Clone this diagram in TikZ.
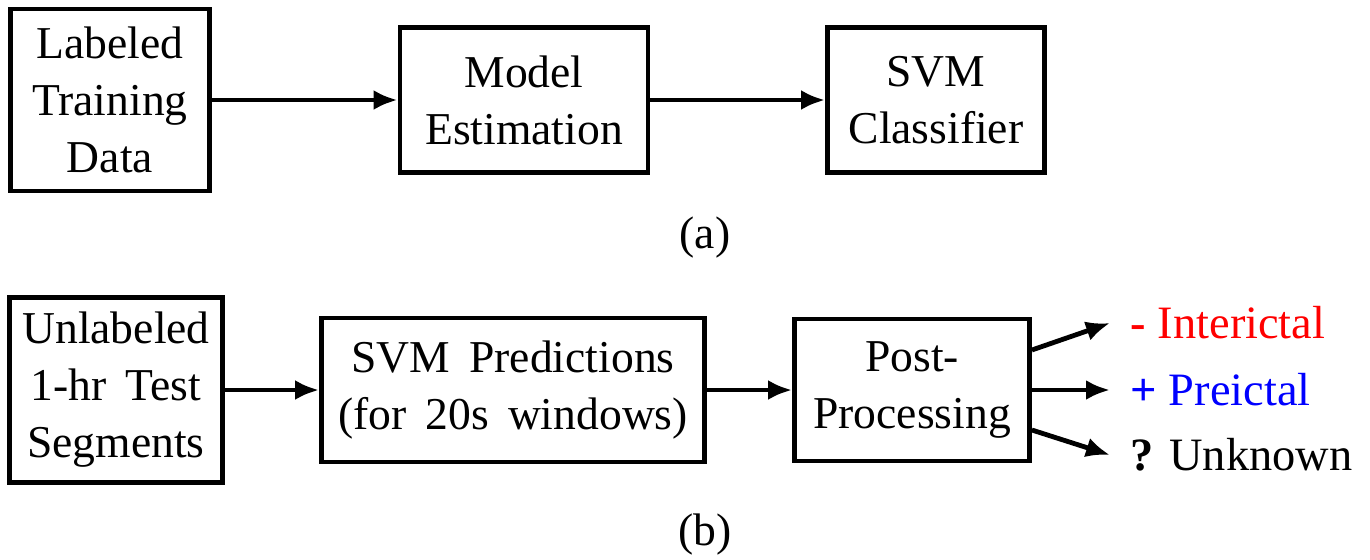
\documentclass[tikz,border=0pt]{standalone}
\usepackage{fontspec}
\setmainfont{LiberationSerif}[Extension=.ttf, UprightFont=*-Regular, BoldFont=*-Bold, ItalicFont=*-Italic, BoldItalicFont=*-BoldItalic]
\usetikzlibrary{arrows.meta}

\newcommand{\blockfont}{\rmfamily\fontsize{11.4}{14.25}\selectfont\spaceskip=0.42em plus 0.1em\relax}

\tikzset{
  block/.style={draw, line width=1.2pt, inner sep=0pt, align=center,
    font=\blockfont},
  flow/.style={-{Latex[length=6pt,width=5pt]}, line width=1.2pt},
  outlabel/.style={anchor=west, inner xsep=5pt, inner ysep=0pt,
    font=\rmfamily\fontsize{11.6}{14.25}\selectfont},
  caption/.style={font=\rmfamily\fontsize{11.4}{14.25}\selectfont}
}

\begin{document}
\begin{tikzpicture}[x=0.25pt,y=-0.25pt]
    \useasboundingbox (0,0) rectangle (1370,559);

    % (a) training
    \node[block, minimum width=49.75pt, minimum height=45.5pt] (train) at (110,100) {Labeled\\Training\\Data};
    \node[block, minimum width=62pt, minimum height=36.25pt] (model) at (524,100) {Model\\Estimation};
    \node[block, minimum width=54.25pt, minimum height=36.25pt] (svm) at (936,100) {SVM\\Classifier};
    \node[caption] (capa) at (705,238) {(a)};

    \draw[flow] (train) -- (model);
    \draw[flow] (model) -- (svm);

    % (b) testing
    \node[block, minimum width=53.25pt, minimum height=46.25pt] (test) at (116,390) {Unlabeled\\1-hr Test\\Segments};
    \node[block, minimum width=95.75pt, minimum height=36pt] (pred) at (513,390) {SVM Predictions\\(for 20s windows)};
    \node[block, minimum width=58.75pt, minimum height=35.5pt] (post) at (912,390) {Post-\\Processing};
    \node[caption] (capb) at (705,535) {(b)};

    \node[outlabel] (inter) at (1110,323) {\textcolor{red}{\textbf{-} Interictal}};
    \node[outlabel] (pre) at (1110,390) {\textcolor{blue}{\textbf{+} Preictal}};
    \node[outlabel] (unk) at (1110,455) {\textbf{?} Unknown};

    \draw[flow] (test) -- (pred);
    \draw[flow] (pred) -- (post);
    \draw[flow] ([yshift=10pt]post.east) -- (inter.west);
    \draw[flow] (post.east) -- (pre.west);
    \draw[flow] ([yshift=-10pt]post.east) -- (unk.west);
\end{tikzpicture}
\end{document}
